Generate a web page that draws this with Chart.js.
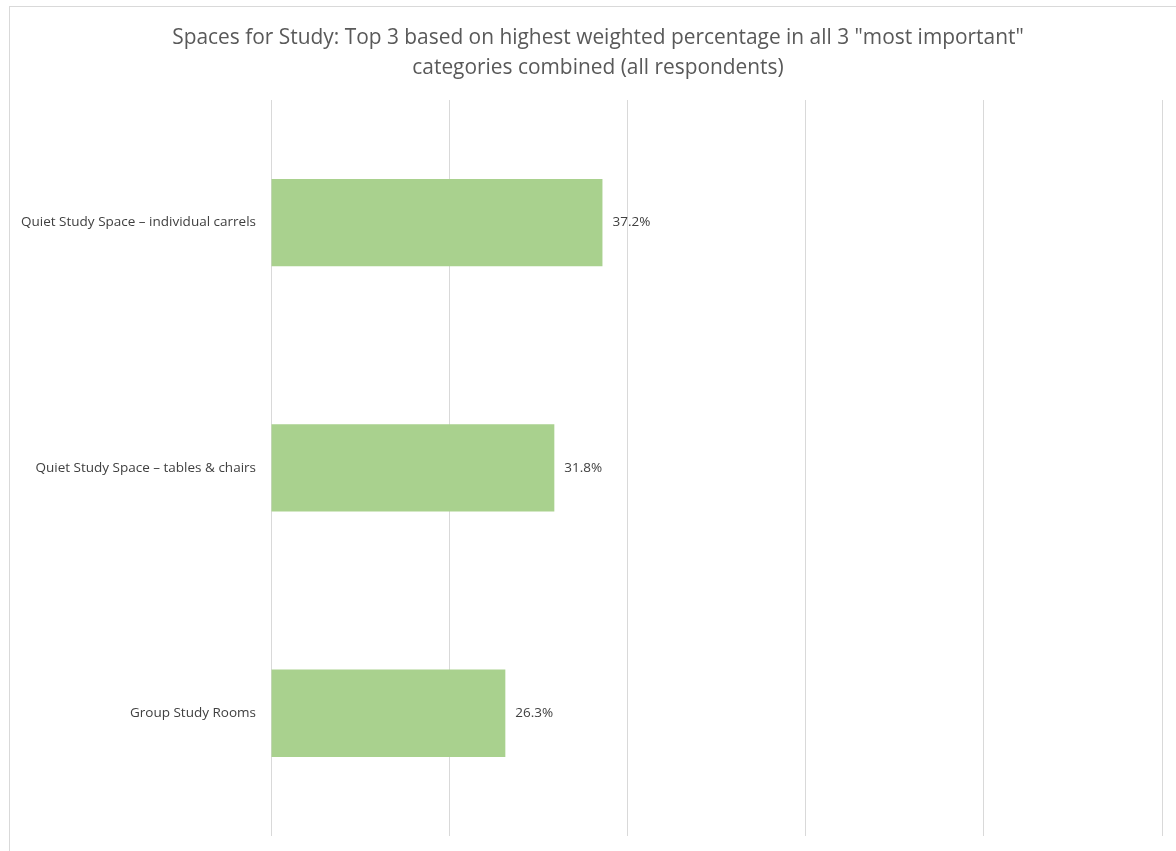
<!DOCTYPE html>
<html>
<head>
<meta charset="utf-8">
<script src="https://cdn.jsdelivr.net/npm/chart.js@4/dist/chart.umd.min.js"></script>
<style>
  html, body { margin: 0; padding: 0; background: #fff; overflow: hidden; }
  .cadre {
    position: absolute; left: 9px; top: 6px;
    width: 1180px; height: 850px;
    border-top: 1px solid #d9d9d9; border-left: 1px solid #d9d9d9;
  }
  canvas { display: block; }
</style>
</head>
<body>
<div class="cadre"><canvas id="myChart" width="1176" height="844"></canvas></div>
<script>
// Données du graphique
const categories = [
  "Quiet Study Space \u2013 individual carrels",
  "Quiet Study Space \u2013 tables & chairs",
  "Group Study Rooms"
];
const valeurs = [37.2, 31.8, 26.3];
const titre = [
  'Spaces for Study: Top 3 based on highest weighted percentage in all 3 "most important"',
  'categories combined (all respondents)'
];

// Titre centré sur tout le cadre (et pas seulement sur la zone du graphique)
const titrePlugin = {
  id: "titrePlugin",
  afterDraw(chart) {
    const ctx = chart.ctx;
    ctx.save();
    ctx.font = "20.9px 'Open Sans', sans-serif";
    ctx.fillStyle = "#595959";
    ctx.textAlign = "center";
    ctx.textBaseline = "middle";
    titre.forEach((ligne, i) => {
      ctx.fillText(ligne, chart.width / 2, 31 + i * 30);
    });
    ctx.restore();
  }
};

// Étiquettes de valeur au bout des barres
const etiquettes = {
  id: "etiquettes",
  afterDatasetsDraw(chart) {
    const ctx = chart.ctx;
    ctx.save();
    ctx.font = "13.5px 'Open Sans', sans-serif";
    ctx.fillStyle = "#404040";
    ctx.textBaseline = "middle";
    ctx.textAlign = "left";
    chart.getDatasetMeta(0).data.forEach((bar, i) => {
      ctx.fillText(valeurs[i].toFixed(1) + "%", bar.x + 10, bar.y);
    });
    ctx.restore();
  }
};

const ctx = document.getElementById("myChart");
new Chart(ctx, {
  type: "bar",
  data: {
    labels: categories,
    datasets: [{
      data: valeurs,
      backgroundColor: "#a9d18e",
      borderWidth: 0,
      categoryPercentage: 1,
      barPercentage: 0.356
    }]
  },
  options: {
    indexAxis: "y",
    responsive: false,
    animation: false,
    layout: { padding: { left: 0, right: 24, top: 93, bottom: 4 } },
    plugins: {
      legend: { display: false },
      tooltip: { enabled: false },
      title: { display: false }
    },
    scales: {
      x: {
        min: 0,
        max: 100,
        ticks: { display: false, stepSize: 20 },
        border: { display: false },
        grid: { color: "#d9d9d9", lineWidth: 1, drawTicks: false }
      },
      y: {
        grid: { display: false },
        border: { display: false },
        ticks: {
          color: "#404040",
          padding: 7,
          font: { family: "'Open Sans', sans-serif", size: 13.5 }
        },
        afterFit(scale) { scale.width = 261; }
      }
    }
  },
  plugins: [etiquettes, titrePlugin]
});
</script>
</body>
</html>
